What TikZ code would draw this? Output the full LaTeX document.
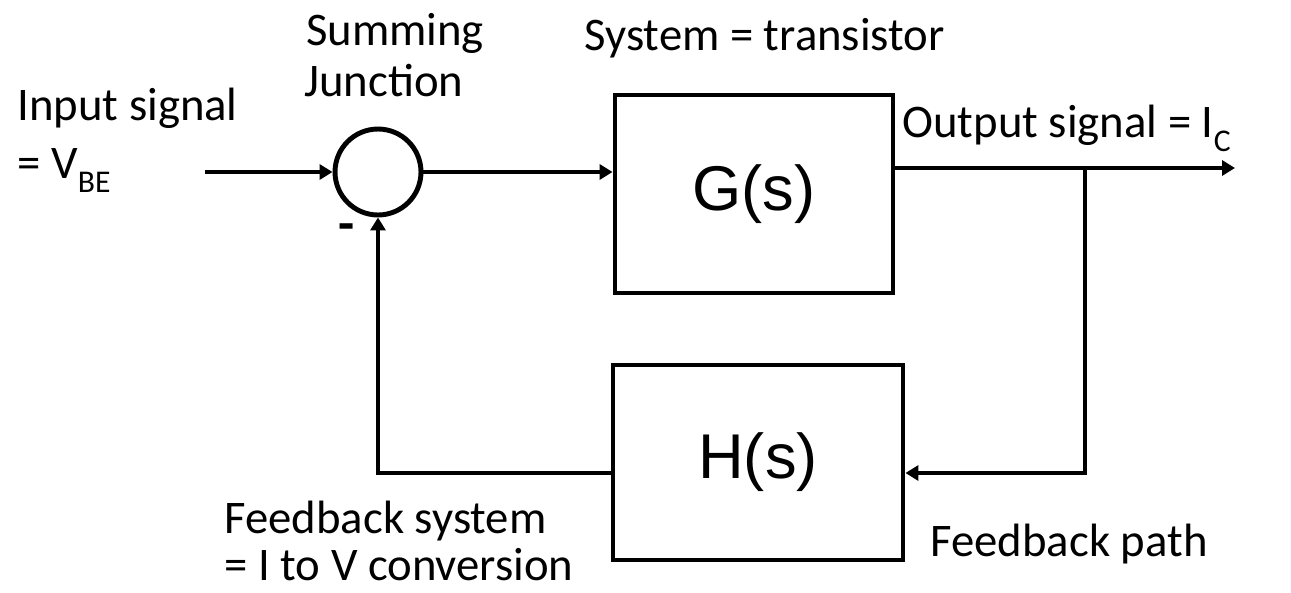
\documentclass[tikz,border=0pt]{standalone}
\usepackage{fontspec}
\setmainfont{Carlito}
\newfontfamily\blockfont{Liberation Sans}
\usetikzlibrary{arrows.meta}
% lowered, smaller subscript as in V_BE, I_C
\newcommand{\lowidx}[1]{\raisebox{-0.32em}{\fontsize{18}{20}\selectfont #1}}

\begin{document}
\begin{tikzpicture}[x=0.02cm,y=-0.02cm,line width=2.8pt,
  lbl/.style={font=\fontsize{26.6}{32}\selectfont,inner sep=0pt},
  block/.style={draw,inner sep=0pt,font=\blockfont\fontsize{36}{40}\selectfont},
  sig/.style={-{Triangle[length=0.26cm,width=0.3cm]}}]
\useasboundingbox (0,0) rectangle (1291,592);
%\draw[help lines] (0,0) grid[step=50] (1291,592);
\node[draw,circle,minimum size=1.72cm,inner sep=0pt] (sum) at (378,172) {};
\node[block,minimum width=5.56cm,minimum height=3.96cm] (G) at (754,194) {G(s)};
\node[block,minimum width=5.8cm,minimum height=3.9cm] (H) at (758,462.5) {H(s)};
\coordinate (in) at (205,172);
\coordinate (out) at (1235,168);
\coordinate (br) at (1085,168);
\coordinate (fb) at (1085,473);
\draw[sig] (in)--(sum);
\draw[sig] (sum)--(sum -| G.west);
\draw[sig] (br -| G.east)--(out);
\draw[sig] (br)--(fb)--(fb -| H.east);
\draw[sig] (fb -| H.west)--(fb -| sum)--(sum.south);
\node[lbl,font=\fontsize{30}{32}\selectfont\bfseries] (minus) at (347,233) {-};
% labels
\node[lbl,anchor=base] (sumlbl) at (395,45) {Summing};
\node[lbl,anchor=base] (sumlbl2) at (384,96) {Junction};
\node[lbl,anchor=base west] (glbl) at (582,50) {System = transistor};
\node[lbl,anchor=base west] (inlbl) at (15,120) {Input signal};
\node[lbl,anchor=base west] (inlbl2) at (15,178) {= V\lowidx{BE}};
\node[lbl,anchor=base west] (outlbl) at (900,137) {Output signal = I\lowidx{C}};
\node[lbl,anchor=base west] (hlbl) at (222,533) {Feedback system};
\node[lbl,anchor=base west] (hlbl2) at (222,580) {= I to V conversion};
\node[lbl,anchor=base west] (fblbl) at (928,556) {Feedback path};
\end{tikzpicture}
\end{document}
